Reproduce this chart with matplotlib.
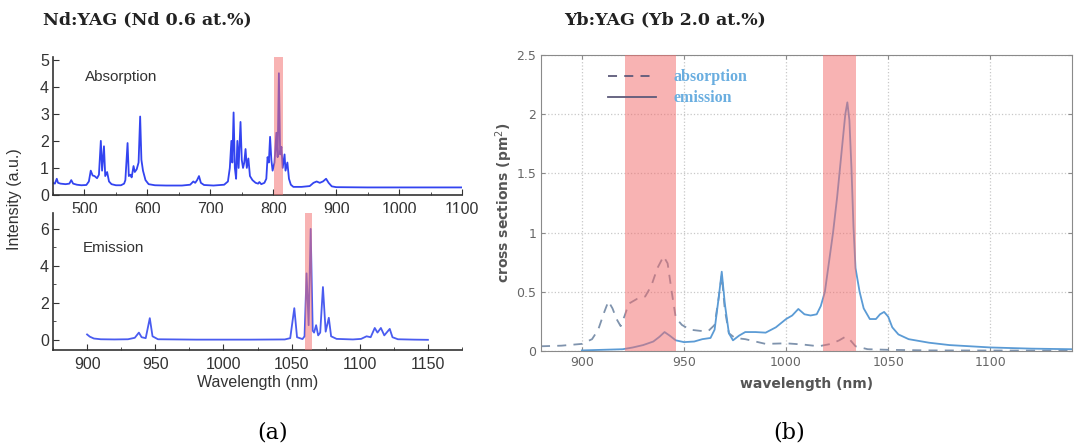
import matplotlib.pyplot as plt
from matplotlib.ticker import MultipleLocator, FormatStrFormatter

# Nd:YAG absorption spectrum (a, top)
nd_abs_wl = [450, 453, 456, 458, 462, 470, 476, 479, 482, 488, 495, 503, 507, 510, 513,
             516, 520, 523, 526, 528, 531, 533, 536, 539, 543, 550, 558, 563, 565, 568.5,
             570.5, 573, 575, 578, 580, 583, 586, 588.5, 590.5, 593, 597, 602, 612, 630,
             655, 668, 673, 676, 679, 682, 685, 690, 705, 722, 728, 731, 733.5, 735, 737,
             739, 741, 743, 745, 748, 750, 752, 754, 756, 758, 760.5, 763, 767, 772, 776,
             778, 781, 786, 789, 791, 793, 795, 797, 799, 802, 805, 807, 809, 811, 813,
             815, 818, 819.5, 822.5, 825, 828, 832, 845, 858, 864, 869, 874, 879, 884,
             888, 893, 900, 950, 1000, 1050, 1100]
nd_abs_val = [0.45, 0.42, 0.6, 0.45, 0.42, 0.40, 0.42, 0.55, 0.42, 0.38, 0.36, 0.37, 0.5,
              0.9, 0.72, 0.7, 0.62, 0.75, 2.0, 0.9, 1.8, 0.7, 0.85, 0.5, 0.4, 0.36, 0.36,
              0.42, 0.55, 1.92, 0.7, 0.75, 0.65, 1.07, 0.85, 0.95, 1.2, 2.9, 1.3, 0.9, 0.55,
              0.4, 0.36, 0.35, 0.35, 0.38, 0.5, 0.45, 0.55, 0.7, 0.45, 0.37, 0.35, 0.38, 0.5,
              1.0, 2.0, 1.2, 3.05, 1.0, 0.6, 2.0, 1.0, 2.7, 1.3, 1.0, 1.2, 1.7, 1.0, 1.35,
              0.7, 0.55, 0.45, 0.42, 0.48, 0.4, 0.45, 0.6, 1.4, 1.2, 2.15, 1.3, 0.9, 1.2,
              2.3, 1.4, 4.5, 1.5, 1.78, 1.0, 1.5, 0.9, 1.2, 0.6, 0.38, 0.3, 0.3, 0.33, 0.45,
              0.5, 0.45, 0.5, 0.6, 0.45, 0.32, 0.29, 0.28, 0.28, 0.28, 0.28]

# Nd:YAG emission spectrum (a, bottom)
nd_em_wl = [900, 902, 905, 910, 920, 930, 935, 938, 940, 943, 946, 948, 952, 980, 1020,
            1045, 1049, 1052, 1054, 1058, 1059.5, 1061, 1062.5, 1064, 1065.5, 1066.5, 1068,
            1069.5, 1071, 1073, 1075, 1077.3, 1079, 1083, 1095, 1101, 1105, 1108, 1111,
            1113, 1115.5, 1118, 1122, 1124, 1128, 1140, 1150]
nd_em_val = [0.3, 0.18, 0.08, 0.04, 0.03, 0.04, 0.12, 0.4, 0.15, 0.1, 1.18, 0.2, 0.04, 0.02,
             0.02, 0.03, 0.1, 1.72, 0.15, 0.05, 0.2, 3.6, 0.8, 6.0, 0.5, 0.4, 0.8, 0.25, 0.4,
             2.86, 0.45, 1.2, 0.2, 0.06, 0.03, 0.06, 0.2, 0.15, 0.65, 0.4, 0.65, 0.25, 0.6,
             0.15, 0.04, 0.02, 0.01]

# Yb:YAG cross sections (b)
yb_em_wl = [900, 910, 920, 925, 930, 935, 938, 940.5, 943, 946, 950, 955, 959, 963, 965,
            967, 968.5, 970, 972, 974, 977, 980, 985, 990, 995, 1000, 1003, 1006, 1009,
            1012, 1015, 1017, 1019, 1021, 1023, 1025, 1027, 1029, 1030, 1031, 1032, 1033,
            1034, 1036, 1038, 1041, 1044, 1046, 1048, 1050, 1052, 1055, 1060, 1070, 1080,
            1090, 1100, 1120, 1140]
yb_em_val = [0.005, 0.01, 0.015, 0.03, 0.05, 0.08, 0.12, 0.16, 0.13, 0.09, 0.075, 0.08,
             0.1, 0.11, 0.18, 0.45, 0.67, 0.4, 0.15, 0.09, 0.13, 0.16, 0.16, 0.155, 0.2,
             0.27, 0.3, 0.355, 0.31, 0.3, 0.31, 0.38, 0.5, 0.75, 1.0, 1.3, 1.65, 2.0, 2.1,
             1.95, 1.55, 1.05, 0.7, 0.5, 0.36, 0.27, 0.27, 0.31, 0.33, 0.29, 0.2, 0.14, 0.1,
             0.07, 0.05, 0.04, 0.03, 0.02, 0.015]
yb_abs_wl = [880, 890, 900, 905, 908, 911, 913, 915, 917, 919, 921, 923, 927, 931, 934,
             937, 940, 942, 944, 946, 949, 953, 958, 962, 965, 967, 968.5, 970, 972, 975,
             980, 985, 990, 1000, 1008, 1016, 1022, 1026, 1029, 1031, 1034, 1040, 1050,
             1070, 1100, 1140]
yb_abs_val = [0.04, 0.045, 0.06, 0.1, 0.18, 0.33, 0.42, 0.36, 0.27, 0.21, 0.3, 0.4, 0.44,
              0.46, 0.55, 0.7, 0.8, 0.74, 0.5, 0.28, 0.22, 0.18, 0.17, 0.17, 0.22, 0.45,
              0.64, 0.35, 0.15, 0.11, 0.1, 0.08, 0.06, 0.065, 0.055, 0.04, 0.06, 0.09, 0.12,
              0.1, 0.04, 0.015, 0.01, 0.005, 0.004, 0.003]

# pump / laser bands
nd_abs_band = (801, 815)
nd_em_band = (1060, 1065)
yb_bands = [(921, 946), (1018, 1034)]

W, H = 1075, 446
fig = plt.figure(figsize=(W / 100, H / 100), dpi=100)
band_color = '#f26d6d'
sans = 'Liberation Sans'
serif = 'DejaVu Serif'

# ---- (a) Nd:YAG ----
ax1 = fig.add_axes([53 / W, 1 - 195 / H, 409 / W, 138 / H])
ax2 = fig.add_axes([53 / W, 1 - 350 / H, 409 / W, 137 / H])

ax1.plot(nd_abs_wl, nd_abs_val, color='#3344f0', lw=1.3)
ax1.axvspan(*nd_abs_band, color=band_color, alpha=0.52, lw=0, zorder=3)
ax1.set_xlim(450, 1100)
ax1.set_ylim(0, 5.1)
ax1.xaxis.set_major_locator(MultipleLocator(100))
ax1.xaxis.set_minor_locator(MultipleLocator(50))
ax1.yaxis.set_major_locator(MultipleLocator(1))
ax1.text(501, 4.37, 'Absorption', fontsize=11, family=sans, color='#333333', va='center')

ax2.plot(nd_em_wl, nd_em_val, color='#4a5cf0', lw=1.3)
ax2.axvspan(*nd_em_band, color=band_color, alpha=0.52, lw=0, zorder=3)
ax2.set_xlim(875, 1175)
ax2.set_ylim(-0.54, 6.86)
ax2.xaxis.set_major_locator(MultipleLocator(50))
ax2.xaxis.set_minor_locator(MultipleLocator(25))
ax2.yaxis.set_major_locator(MultipleLocator(2))
ax2.yaxis.set_minor_locator(MultipleLocator(1))
ax2.text(897, 4.97, 'Emission', fontsize=11, family=sans, color='#333333', va='center')
ax2.set_xlabel('Wavelength (nm)', fontsize=11.5, family=sans, color='#333333', labelpad=2)

for ax in (ax1, ax2):
    for s in ('top', 'right'):
        ax.spines[s].set_visible(False)
    for s in ('left', 'bottom'):
        ax.spines[s].set_color('#333333')
        ax.spines[s].set_linewidth(1.2)
    ax.tick_params(which='both', direction='in', colors='#333333', labelsize=11.5)
    ax.tick_params(axis='x', which='both', pad=5)
    ax.tick_params(axis='y', which='both', pad=3)
    ax.tick_params(which='major', length=4)
    ax.tick_params(which='minor', length=2)
    for lab in ax.get_xticklabels() + ax.get_yticklabels():
        lab.set_family(sans)

fig.text(15 / W, 1 - 199 / H, 'Intensity (a.u.)', rotation=90, fontsize=11.5, family=sans,
         color='#333333', ha='center', va='center')
fig.text(43 / W, 1 - 20 / H, 'Nd:YAG (Nd 0.6 at.%)', fontsize=12.5,
         family=serif, fontweight='bold', color='#222222', va='center')
fig.text(273 / W, 1 - 433 / H, '(a)', fontsize=16, family=serif,
         ha='center', va='center')

# ---- (b) Yb:YAG ----
ax3 = fig.add_axes([541 / W, 1 - 351 / H, 531 / W, 296 / H])
ax3.plot(yb_abs_wl, yb_abs_val, color='#7f93ad', lw=1.3, ls=(0, (5, 4)), label='absorption')
ax3.plot(yb_em_wl, yb_em_val, color='#5b9bd5', lw=1.3, label='emission')
for lo, hi in yb_bands:
    ax3.axvspan(lo, hi, color=band_color, alpha=0.52, lw=0, zorder=3)
ax3.set_xlim(880, 1140)
ax3.set_ylim(0, 2.5)
ax3.xaxis.set_major_locator(MultipleLocator(50))
ax3.yaxis.set_major_locator(MultipleLocator(0.5))
ax3.yaxis.set_major_formatter(FormatStrFormatter('%g'))
ax3.grid(True, ls=':', color='#c8c8c8', lw=0.9)
for s in ax3.spines.values():
    s.set_color('#8a8a8a')
ax3.tick_params(direction='in', top=True, right=True, colors='#8a8a8a',
                labelcolor='#666666', labelsize=9, length=3)
ax3.set_xlabel('wavelength (nm)', fontsize=10, fontweight='bold', color='#555555', labelpad=6)
ax3.set_ylabel('cross sections (pm$^2$)', fontsize=10, fontweight='bold', color='#555555',
               labelpad=1)

leg = ax3.legend(loc='upper left', bbox_to_anchor=(0.10, 1.0), frameon=False,
                 handlelength=3.0, handletextpad=1.1, labelspacing=0.3,
                 prop={'family': 'Liberation Serif', 'weight': 'bold', 'size': 11.5})
for h in leg.get_lines():
    h.set_color('#5d5a7a')
for t in leg.get_texts():
    t.set_color('#6aaee0')

fig.text(564 / W, 1 - 20 / H, 'Yb:YAG (Yb 2.0 at.%)', fontsize=12.5,
         family=serif, fontweight='bold', color='#222222', va='center')
fig.text(789 / W, 1 - 433 / H, '(b)', fontsize=16, family=serif,
         ha='center', va='center')

fig.savefig('out.png', dpi=100)
